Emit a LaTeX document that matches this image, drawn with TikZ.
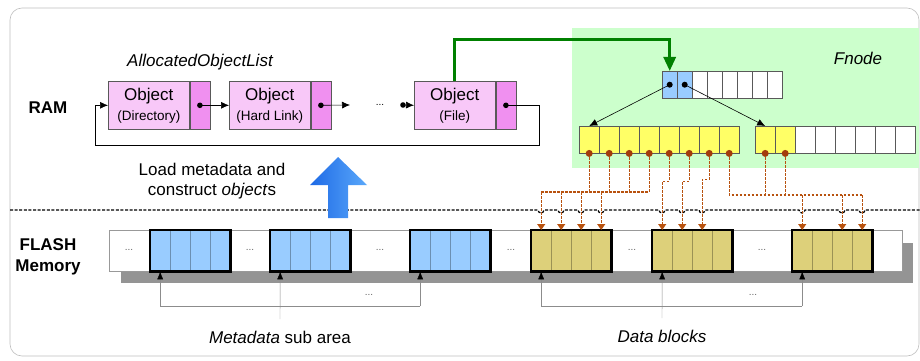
\documentclass[tikz,border=0pt]{standalone}
\usepackage{fontspec}
\setmainfont{Liberation Sans}
\usetikzlibrary{arrows.meta,positioning}
\definecolor{objpink}{HTML}{F8C8F8}
\definecolor{objtail}{HTML}{F090F0}
\definecolor{fnodegreen}{HTML}{CCFFCC}
\definecolor{cellblue}{HTML}{99CCFF}
\definecolor{cellyellow}{HTML}{FFFF66}
\definecolor{datakhaki}{HTML}{DDD07A}
\definecolor{dotbrown}{HTML}{A33C0C}
\definecolor{busbrown}{HTML}{B8520F}
\definecolor{ptrgreen}{HTML}{008000}
\definecolor{arrowdark}{HTML}{1E6AE6}
\definecolor{arrowlight}{HTML}{5AA8FA}
\newcommand{\subtxt}{\fontsize{13.5}{16}\selectfont}
\newcommand{\dotstxt}{\fontsize{10}{12}\selectfont}

\begin{document}
\begin{tikzpicture}[x=1pt, y=-1pt, semithick, font=\fontsize{17}{20}\selectfont,
    obj/.style = {draw=black!65, fill=objpink, minimum width=81pt, minimum height=48pt, inner sep=0pt, align=center, anchor=north west},
    tail/.style = {draw=black!65, fill=objtail, minimum width=20pt, minimum height=48pt, inner sep=0pt},
    cell/.style = {draw=black!65, thin, minimum width=#1, minimum height=27pt, inner sep=0pt, anchor=north west},
    cell/.default = 20pt,
    fcell/.style = {draw=#1!70!black, thin, fill=#1, minimum width=20pt, minimum height=41pt, inner sep=0pt, anchor=north west},
    link/.style = {-{Latex[length=8pt,width=7pt]}},
    bus/.style = {draw=busbrown, dash pattern=on 2.5pt off 1.5pt, line width=1.1pt},
    busarrow/.style = {bus, -{Triangle[length=6pt,width=8pt,fill=busbrown]}},
    ptr/.style = {draw=black!45, thin, -{Latex[black,length=8pt,width=6pt]}},
    etc/.style = {text=black!60, font=\dotstxt}]
\useasboundingbox (0,0) rectangle (920,361);

% frame and Fnode area
\draw[black!25, rounded corners=12pt] (10,8) rectangle (919,356);
\fill[fnodegreen] (572,28) rectangle (919,168);

% RAM side
\node[font=\fontsize{17}{20}\selectfont\bfseries] (ram) at (48,108) {RAM};
\node[font=\fontsize{17}{21}\selectfont\bfseries, align=center] (flash) at (48,257) {FLASH\\Memory};
\node[font=\fontsize{17}{20}\selectfont\itshape] (aol) at (200,62) {AllocatedObjectList};

\node[obj] (dir)  at (108,81) {Object\\{\subtxt (Directory)}};
\node[tail, right=0pt of dir] (dirT) {};
\node[obj] (hl)   at (229,81) {Object\\{\subtxt (Hard Link)}};
\node[tail, right=0pt of hl] (hlT) {};
\node[obj] (file) at (414,81) {Object\\{\subtxt (File)}};
\node[tail, right=0pt of file] (fileT) {};

\coordinate (hlend) at (350,105);
\coordinate (fdot) at (403,105);
\coordinate (loopR) at (539,145);
\coordinate (loopL) at (95,145);
\node[font=\dotstxt] (more) at (380,105) {...};

\draw[link] (dirT.center) -- (hl.west);
\draw[link] (hlT.center) -- (hlend);
\draw[link] (fdot) -- (file.west);
\draw[link] (fileT.center) -| (loopR) -- (loopL) |- (dir.west);
\foreach \p in {dirT.center, hlT.center, fdot, fileT.center}
    \fill (\p) circle (2.8pt);

% Fnode
\node[font=\fontsize{17}{20}\selectfont\itshape] (fnode) at (858,58) {Fnode};
\foreach \i in {1,...,8}
    \node[cell=15pt, fill=white] (f\i) at ({662+15*(\i-1)},71) {};
\foreach \i in {1,2}
    \node[cell=15pt, fill=cellblue] (f\i) at ({662+15*(\i-1)},71) {};
\foreach \i in {1,...,8}
    \node[cell, fill=cellyellow] (l\i) at ({579+20*(\i-1)},126) {};
\foreach \i in {1,...,8}
    \node[cell, fill=white] (r\i) at ({755+20*(\i-1)},126) {};
\foreach \i in {1,2}
    \node[cell, fill=cellyellow] (r\i) at ({755+20*(\i-1)},126) {};

\draw[ptrgreen, line width=3pt, -{Triangle[length=14pt,width=12pt]}] (file.north) -- ++(0,-41) -| (f1.north);
\draw[link] (f1.center) -- (l1.north);
\draw[link] (f2.center) -- (r1.north);
\fill (f1.center) circle (3pt);
\fill (f2.center) circle (3pt);

% FLASH strip
\fill[black!42] (121,243) rectangle (913,283);
\draw[black!40, thin, fill=white] (109,230) rectangle (902,271);
\foreach \b/\x/\c in {m1/150/cellblue, m2/270/cellblue, m3/410/cellblue, d1/531/datakhaki, d2/652/datakhaki, d3/792/datakhaki} {
    \foreach \j in {1,...,4}
        \node[fcell=\c] (\b-\j) at ({\x+20*(\j-1)},230) {};
    \draw[line width=2.6pt] (\b-1.north west) rectangle (\b-4.south east);
}
\foreach \x in {129,250,380,511,632,762}
    \node[etc] at (\x,250) {...};

% RAM / FLASH border
\draw[black, dash pattern=on 3pt off 1.6pt, line width=1.2pt] (10,210)
    \foreach \h in {541,561,581,601,662,682,702,802,842,862} { -- ({\h-3},210) arc[start angle=180, end angle=360, radius=3pt] }
    -- (920,210);

% load arrow
\shade[left color=arrowdark, right color=arrowlight]
    (328,218) -- (328,185) -- (310,185) -- (338,157) -- (367,185) -- (348,185) -- (348,218) -- cycle;
\node[align=center] (load) at (212,181) {Load metadata and\\construct \textit{object}s};

% Fnode pointers to data blocks
\coordinate (ba) at (541,192);
\coordinate (bc) at (862,195);
\draw[bus] (l4.south) |- (ba);
\foreach \i in {1,2,3}
    \draw[bus] (l\i.south) -- (l\i.south |- ba);
\foreach \j in {1,...,4}
    \draw[busarrow] (d1-\j.north |- ba) -- (d1-\j.north);
\draw[busarrow] (l5.south) -- ++(0,28) -| (d2-1.north);
\draw[busarrow] (l6.south) -- ++(0,28) -| (d2-2.north);
\draw[busarrow] (l7.south) -- ++(0,26) -| (d2-3.north);
\draw[bus] (l8.south) |- (bc);
\draw[bus] (r1.south) -- (r1.south |- bc);
\draw[bus] (r2.south) -- (r2.south |- bc);
\foreach \j in {1,3,4}
    \draw[busarrow] (d3-\j.north |- bc) -- (d3-\j.north);
\foreach \p in {l1,l2,l3,l4,l5,l6,l7,l8,r1,r2}
    \fill[dotbrown] (\p.south) circle (3.5pt);

% sub area labels
\node (mlab) at (280,337) {\textit{Metadata} sub area};
\node (dlab) at (662,336) {\textit{Data blocks}};
\coordinate (mbus) at (280,306);
\coordinate (dbus) at (662,306);
\draw[black!45, thin] (m1-1.south |- mbus) -- (m3-1.south |- mbus);
\draw[black!45, thin] (d1-1.south |- dbus) -- (d3-1.south |- dbus);
\foreach \b in {m1,m3}
    \draw[ptr] (\b-1.south |- mbus) -- (\b-1.south);
\foreach \b in {d1,d3}
    \draw[ptr] (\b-1.south |- dbus) -- (\b-1.south);
\draw[ptr] ([yshift=8pt]mlab.north) -- (m2-1.south);
\draw[ptr] ([yshift=8pt]dlab.north) -- (d2-1.south);
\node[etc] at (369,295) {...};
\node[etc] at (753,295) {...};
\end{tikzpicture}
\end{document}
